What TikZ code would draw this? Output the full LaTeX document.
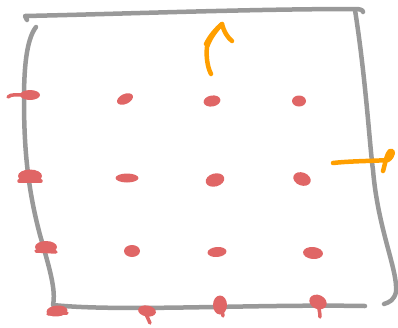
\documentclass[tikz,border=0pt]{standalone}
\definecolor{framegray}{HTML}{999999}
\definecolor{dotred}{HTML}{E06666}
\definecolor{arroworange}{HTML}{FF9F00}
\begin{document}
\begin{tikzpicture}[x=1pt,y=-1pt,
  frame/.style={draw=framegray,line width=4.5pt,line cap=round,line join=round},
  tail/.style={draw=dotred,line width=3.5pt,line cap=round},
  pen/.style={draw=arroworange,line width=4.5pt,line cap=round,line join=round}]
\useasboundingbox (0,0) rectangle (398,327);

% hand-drawn square
\draw[frame] (27,20) -- (25,16) .. controls (120,14) and (250,9) .. (355,9) .. controls (360,9) and (363,10) .. (363,12);
\draw[frame] (355,10) .. controls (366,80) and (370,150) .. (373,170) .. controls (378,230) and (398,270) .. (396,292) .. controls (394,300) and (390,302) .. (384,304);
\draw[frame] (36,27) .. controls (26,40) and (24,70) .. (24,100) .. controls (24,150) and (28,190) .. (40,235) .. controls (50,270) and (56,290) .. (53,305) .. controls (120,312) and (250,304) .. (365,306);

% grid of red dots: centre / half width / half height / tilt
\foreach \x/\y/\a/\b/\r in {
  30/95/10/5/0,  125/99/8.5/5/25, 212/101/8.5/5.5/10, 299/101/7/5.5/0,
  30/176/12/6.5/0, 127/178/11.5/4.5/0, 215/180/9.5/6.5/15, 302/179/9/6.5/-20,
  46/247/11/6/0, 132/251/8/6/0, 217/252/9.5/5/5, 313/253/10/6/-5,
  57/311/10.5/5.5/5, 147/311/9/5.5/-10, 220/305/7/9.5/0, 318/302/9/7/-25}{
  \fill[dotred,rotate around={\r:(\x,\y)}] (\x,\y) ellipse [x radius=\a, y radius=\b];
}
% small strokes trailing off some dots
\draw[tail] (8,97) .. controls (11,94) and (16,95) .. (22,95);
\draw[tail] (145,312) -- (150,323);
\draw[tail] (221,308) .. controls (222,311) and (223,313) .. (223,316);
\draw[tail] (318,304) .. controls (319,309) and (320,313) .. (320,317);
\draw[tail] (19,181) -- (41,181);
\draw[tail] (36,251) -- (56,252);
\draw[tail] (48,314) -- (67,313);

% orange arrows
\draw[pen] (211,74) .. controls (207,66) and (206,55) .. (207,47) .. controls (210,38) and (216,30) .. (222,24);
\draw[pen] (206,44) .. controls (210,36) and (216,29) .. (222,24) .. controls (224,32) and (228,38) .. (232,41);
\draw[pen] (333,163) .. controls (350,161) and (375,161) .. (388,160) .. controls (394,156) and (394,149) .. (390,151) .. controls (386,155) and (385,165) .. (383,171);
\end{tikzpicture}
\end{document}
